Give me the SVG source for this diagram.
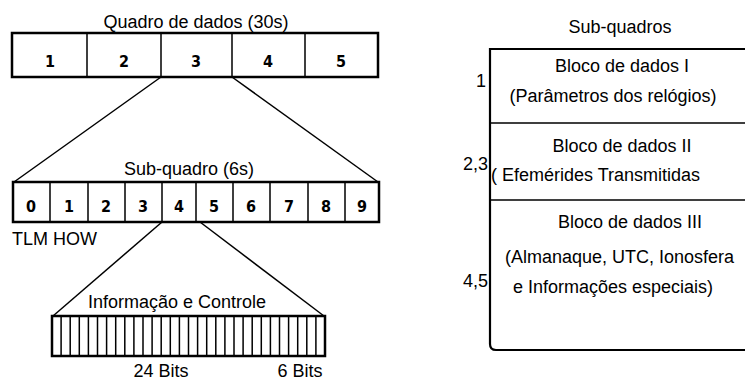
<svg xmlns="http://www.w3.org/2000/svg" width="745" height="382" viewBox="0 0 745 382">
<style>
.t{font-family:"Liberation Sans",Arial,sans-serif;font-size:18px;fill:#000}
.d{font-family:"DejaVu Sans Condensed","DejaVu Sans",sans-serif;font-weight:bold;font-size:16px;fill:#000;text-anchor:middle}
.box{fill:#fff;stroke:#000;stroke-width:2.5}
.div{stroke:#000;stroke-width:1.5;fill:none}
.ln{stroke:#000;stroke-width:1.5;fill:none}
</style>
<rect width="745" height="382" fill="#fff"/>
<g id="connectors">
<line class="ln" x1="161" y1="77" x2="14" y2="182"/>
<line class="ln" x1="232" y1="77" x2="378" y2="182"/>
<line class="ln" x1="162" y1="222" x2="53" y2="316"/>
<line class="ln" x1="200" y1="222" x2="324" y2="316"/>
</g>
<g id="quadro">
<text class="t" x="196" y="28" text-anchor="middle">Quadro de dados (30s)</text>
<rect class="box" x="12" y="33" width="366" height="44"/>
<path class="div" d="M87 33V77M161 33V77M232 33V77M305 33V77"/>
<text class="d" x="50" y="67">1</text>
<text class="d" x="124" y="67">2</text>
<text class="d" x="196" y="67">3</text>
<text class="d" x="268" y="67">4</text>
<text class="d" x="341" y="67">5</text>
</g>
<g id="subquadro">
<text class="t" x="189" y="175" text-anchor="middle">Sub-quadro (6s)</text>
<rect class="box" x="13" y="182" width="366" height="40"/>
<path class="div" d="M50 182V222M88 182V222M125 182V222M162 182V222M196 182V222M233 182V222M270 182V222M308 182V222M345 182V222"/>
<text class="d" x="31" y="212">0</text>
<text class="d" x="69" y="212">1</text>
<text class="d" x="106" y="212">2</text>
<text class="d" x="143" y="212">3</text>
<text class="d" x="179" y="212">4</text>
<text class="d" x="214" y="212">5</text>
<text class="d" x="251" y="212">6</text>
<text class="d" x="289" y="212">7</text>
<text class="d" x="326" y="212">8</text>
<text class="d" x="362" y="212">9</text>
<text class="t" x="12" y="245" font-size="17">TLM  HOW</text>
</g>
<g id="bits">
<text class="t" x="177" y="308" text-anchor="middle">Informação e Controle</text>
<rect class="box" x="52" y="316" width="273" height="40" stroke-width="2"/>
<path class="div" d="M61.1 316V356M70.2 316V356M79.3 316V356M88.4 316V356M97.5 316V356M106.6 316V356M115.7 316V356M124.8 316V356M133.9 316V356M143 316V356M152.1 316V356M161.2 316V356M170.3 316V356M179.4 316V356M188.5 316V356M197.6 316V356M206.7 316V356M215.8 316V356M224.9 316V356M234 316V356M243.1 316V356M252.2 316V356M261.3 316V356M270.4 316V356M279.5 316V356M288.6 316V356M297.7 316V356M306.8 316V356M315.9 316V356"/>
<text class="t" x="161" y="377" text-anchor="middle" font-size="17">24 Bits</text>
<text class="t" x="300" y="377" text-anchor="middle" font-size="17">6 Bits</text>
</g>
<g id="subquadros">
<text class="t" x="620" y="33" text-anchor="middle">Sub-quadros</text>
<path d="M748 49H490V344Q490 350 496 350H748" fill="none" stroke="#000" stroke-width="2.2"/>
<path class="div" d="M490 123H745M490 200H745"/>
<text class="t" x="622" y="72" text-anchor="middle">Bloco de dados I</text>
<text class="t" x="613" y="102" text-anchor="middle">(Parâmetros dos relógios)</text>
<text class="t" x="486" y="87" text-anchor="end">1</text>
<text class="t" x="622" y="152" text-anchor="middle">Bloco de dados II</text>
<text class="t" x="488" y="170" text-anchor="end">2,3</text>
<text class="t" x="491" y="181">( Efemérides  Transmitidas</text>
<text class="t" x="630" y="228" text-anchor="middle">Bloco de dados III</text>
<text class="t" x="505" y="263">(Almanaque,  UTC, Ionosfera</text>
<text class="t" x="488" y="287" text-anchor="end">4,5</text>
<text class="t" x="513" y="293">e Informações  especiais)</text>
</g>
</svg>
